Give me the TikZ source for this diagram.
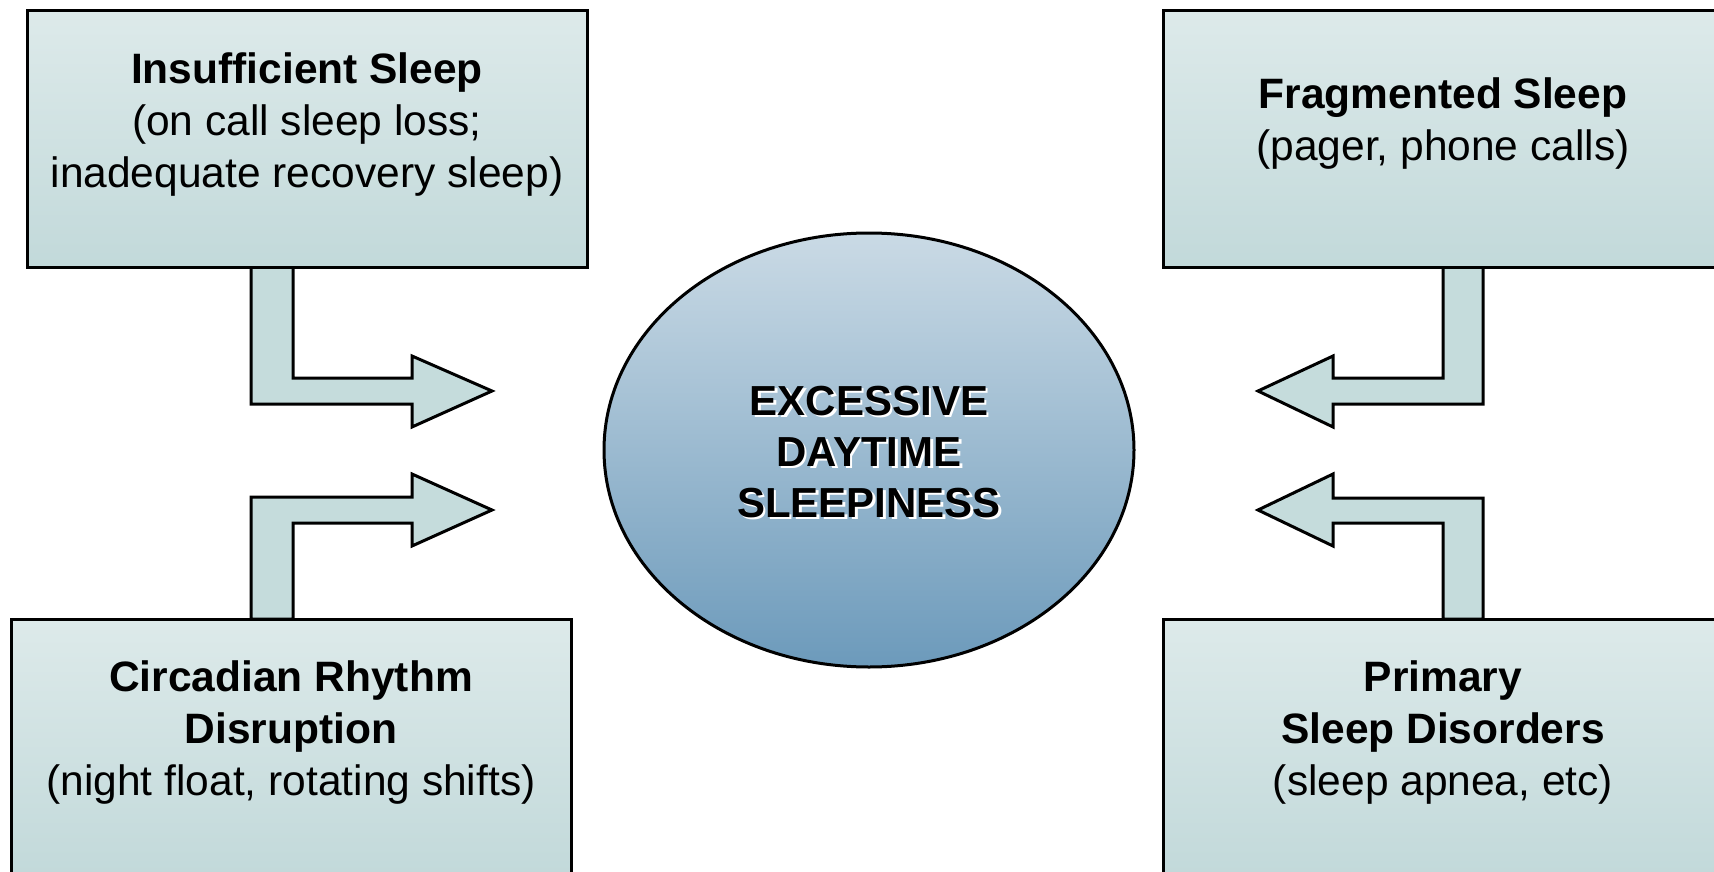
\documentclass[tikz,border=0pt]{standalone}
\usepackage{fontspec}
\setmainfont{Liberation Sans}
\usetikzlibrary{calc,shapes.geometric}
\definecolor{boxtop}{RGB}{221,234,234}
\definecolor{boxbot}{RGB}{194,217,218}
\definecolor{arrowfill}{RGB}{197,220,220}
\definecolor{elltop}{RGB}{202,218,229}
\definecolor{ellbot}{RGB}{108,154,187}
\tikzset{
  boxgeom/.style={rectangle, outer sep=0pt, inner sep=0pt, minimum width=280pt, minimum height=128pt},
  causebox/.style={boxgeom, draw=black, line width=1.5pt, top color=boxtop, bottom color=boxbot},
  boxtext/.style={anchor=north, align=center, inner sep=0pt, font=\fontsize{21.25}{26}\selectfont},
  blockarrow/.style={draw=black, line width=1.5pt, fill=arrowfill, line join=miter},
  ell/.style={draw=black, line width=1.5pt, ellipse, outer sep=0pt, inner sep=0pt,
    minimum width=265pt, minimum height=217pt, top color=elltop, bottom color=ellbot},
  elltext/.style={align=center, inner sep=0pt, font=\fontsize{21}{25.5}\selectfont\bfseries}
}
\begin{document}
\begin{tikzpicture}[x=0.5pt,y=-0.5pt]
\useasboundingbox (0,0) rectangle (1714,872);
\clip (0,0) rectangle (1714,872);
% box geometry (invisible anchors)
\path (307,139) node[boxgeom] (tl) {};
\path (1443,139) node[boxgeom] (tr) {};
\path (291,747) node[boxgeom] (bl) {};
\path (1443,747) node[boxgeom] (br) {};
% arrows
\coordinate (a1) at ($(tl.south)+(-56,0)$);
\coordinate (a2) at ($(bl.north)+(-40,0)$);
\coordinate (a3) at ($(tr.south)+(40,0)$);
\coordinate (a4) at ($(br.north)+(40,0)$);
\draw[blockarrow] (a1) -- ++(0,137) -- ++(161,0) -- ++(0,23) -- ++(80,-36) -- ++(-80,-35) -- ++(0,22) -- ++(-119,0) -- ++(0,-111) -- cycle;
\draw[blockarrow] (a2) -- ++(0,-122) -- ++(161,0) -- ++(0,-23) -- ++(80,36) -- ++(-80,36) -- ++(0,-23) -- ++(-119,0) -- ++(0,96) -- cycle;
\draw[blockarrow] (a3) -- ++(0,137) -- ++(-150,0) -- ++(0,23) -- ++(-75,-36) -- ++(75,-35) -- ++(0,22) -- ++(110,0) -- ++(0,-111) -- cycle;
\draw[blockarrow] (a4) -- ++(0,-121) -- ++(-150,0) -- ++(0,-24) -- ++(-75,36) -- ++(75,36) -- ++(0,-23) -- ++(110,0) -- ++(0,96) -- cycle;
% boxes
\node[causebox] (tlb) at (tl) {};
\node[causebox] (trb) at (tr) {};
\node[causebox] (blb) at (bl) {};
\node[causebox] (brb) at (br) {};
% box texts
\node[boxtext] (t1) at ($(tl.north)+(0,41)$) {\textbf{Insufficient Sleep}\\(on call sleep loss;\\inadequate recovery sleep)};
\node[boxtext] (t2) at ($(tr.north)+(0,66)$) {\textbf{Fragmented Sleep}\\(pager, phone calls)};
\node[boxtext] (t3) at ($(bl.north)+(0,41)$) {\textbf{Circadian Rhythm}\\\textbf{Disruption}\\(night float, rotating shifts)};
\node[boxtext] (t4) at ($(br.north)+(0,41)$) {\textbf{Primary}\\\textbf{Sleep Disorders}\\(sleep apnea, etc)};
% central ellipse
\node[ell] (eds) at (869,450) {};
\node[elltext, text=white] (edsshadow) at ($(eds.center)+(2.5,4.5)$) {EXCESSIVE\\DAYTIME\\SLEEPINESS};
\node[elltext] (edstext) at ($(eds.center)+(0,2)$) {EXCESSIVE\\DAYTIME\\SLEEPINESS};
\end{tikzpicture}
\end{document}
